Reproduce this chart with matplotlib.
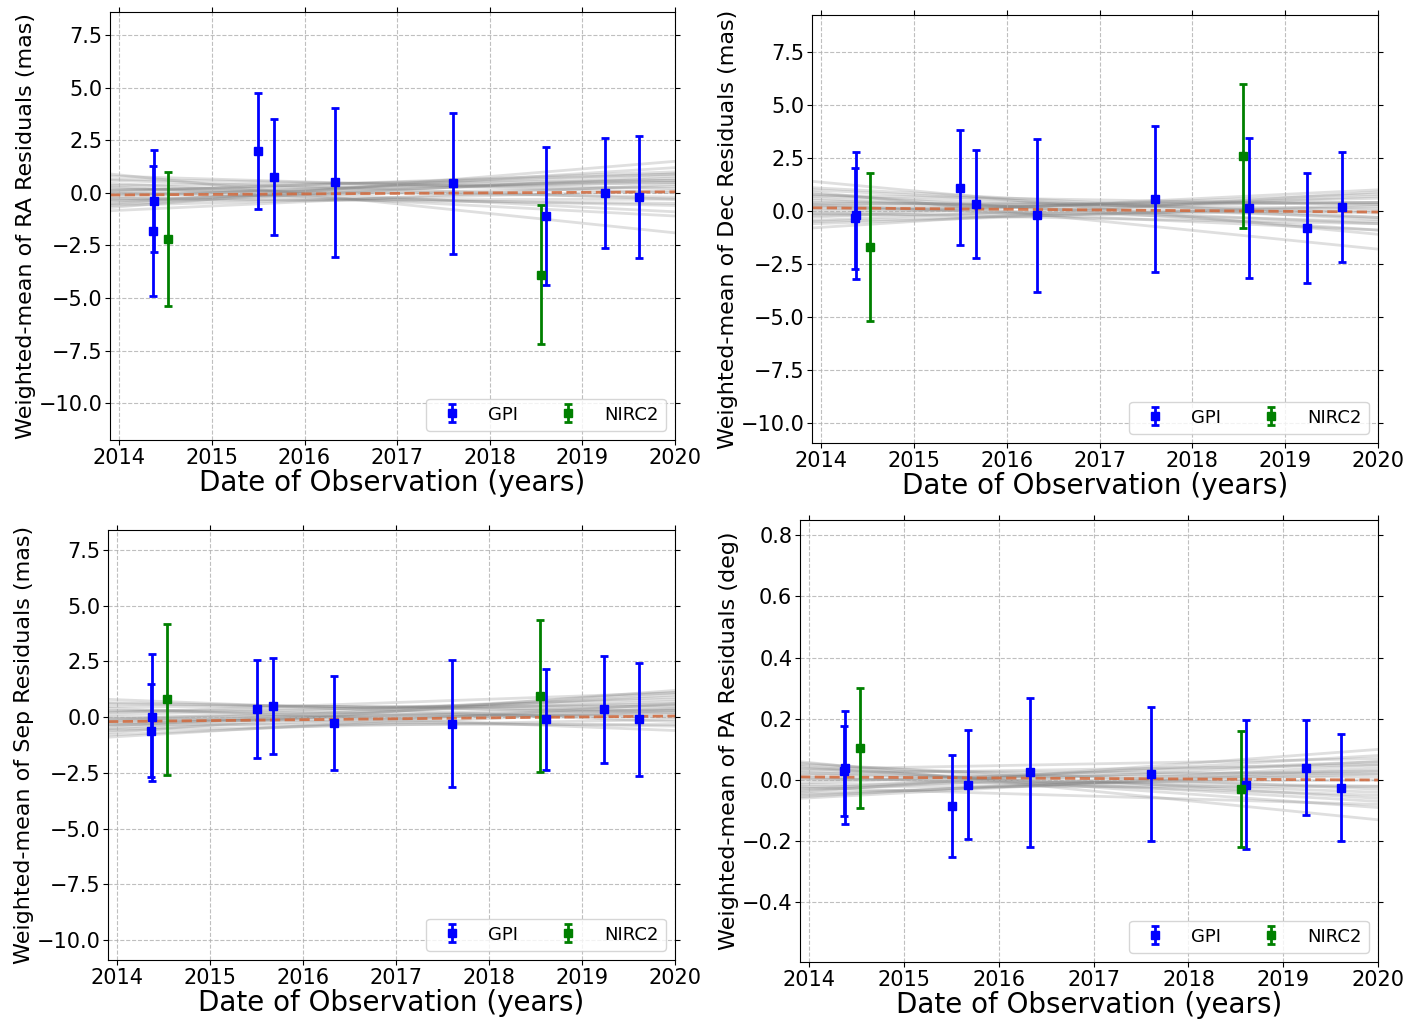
import matplotlib.pyplot as plt
import numpy as np

# epochs of observation (years)
gpi_t = [2014.36, 2014.37, 2015.50, 2015.67, 2016.33, 2017.60, 2018.61, 2019.24, 2019.61]
nirc_t = [2014.53, 2018.55]

# weighted-mean residuals and errors, per panel
ra_gpi = [-1.8, -0.4, 2.0, 0.75, 0.5, 0.45, -1.1, 0.0, -0.2]
ra_gpi_err = [3.1, 2.43, 2.75, 2.75, 3.55, 3.35, 3.3, 2.6, 2.9]
ra_nirc = [-2.2, -3.9]
ra_nirc_err = [3.2, 3.3]

dec_gpi = [-0.35, -0.2, 1.1, 0.35, -0.2, 0.55, 0.15, -0.8, 0.2]
dec_gpi_err = [2.4, 3.0, 2.7, 2.55, 3.6, 3.45, 3.3, 2.6, 2.6]
dec_nirc = [-1.7, 2.6]
dec_nirc_err = [3.5, 3.4]

sep_gpi = [-0.6, 0.0, 0.35, 0.5, -0.25, -0.3, -0.1, 0.35, -0.1]
sep_gpi_err = [2.1, 2.85, 2.2, 2.15, 2.1, 2.85, 2.25, 2.4, 2.55]
sep_nirc = [0.8, 0.95]
sep_nirc_err = [3.4, 3.4]

pa_gpi = [0.03, 0.04, -0.085, -0.015, 0.025, 0.02, -0.015, 0.04, -0.025]
pa_gpi_err = [0.148, 0.185, 0.168, 0.178, 0.243, 0.22, 0.21, 0.155, 0.175]
pa_nirc = [0.105, -0.03]
pa_nirc_err = [0.195, 0.19]

# model trend lines: value at left and right edge of the time range
ra_left = [0.8, 0.6, 0.9, 0.35, 0.2, 0.1, 0.0, -0.1, -0.2, -0.3, -0.4, -0.5, -0.6, -0.7, -0.85, 0.3,
           0.45, -0.25, 0.15, -0.05, 0.65, -0.35, 0.05, -0.55]
ra_right = [0.0, -0.3, -1.9, 0.6, -0.2, 0.9, -0.6, 0.5, 0.9, 0.3, 0.7, 1.2, 0.1, 1.5, 0.4, -1.1,
            -0.9, -0.5, 0.5, 0.6, 0.2, -0.3, 1.0, 0.8]
ra_best = [-0.1, 0.05]

dec_left = [1.4, 1.1, 0.9, 0.7, 0.5, 0.35, 0.2, 0.1, 0.0, -0.15, -0.3, -0.45, -0.6, -0.8, 0.6, 0.25,
            0.8, -0.2, 0.4, 1.0, 0.3, -0.5, 0.75, -0.1]
dec_right = [-1.1, -0.3, -1.8, -0.1, -0.3, 0.4, -0.5, 0.4, 0.6, 0.8, 1.0, 0.7, 0.3, 0.9, -0.6, 0.4,
             -0.9, 0.0, 0.1, -0.4, -0.9, 0.2, 0.3, -0.6]
dec_best = [0.15, -0.05]

sep_left = [0.8, 0.6, 0.4, 0.25, 0.1, 0.0, -0.1, -0.25, -0.4, -0.55, -0.7, -0.9, -0.3, -0.15, 0.3, -0.5,
            -0.8, 0.5, -0.05, -0.35, 0.2, -0.6, 0.65, -0.2]
sep_right = [-0.2, 0.3, -0.6, 0.6, 0.8, 0.1, 0.9, 0.2, 1.1, 0.4, 1.2, 0.6, -0.3, 0.7, 0.0, 1.0,
             0.3, 0.5, -0.4, 0.55, 1.1, -0.1, 0.2, 0.35]
sep_best = [-0.2, 0.05]

pa_left = [0.06, 0.05, 0.04, 0.03, 0.02, 0.01, 0.0, -0.01, -0.02, -0.03, -0.04, -0.05, -0.06, 0.045,
           -0.015, 0.025, -0.035, 0.055, 0.005, -0.045, 0.035, -0.025, 0.015, -0.055]
pa_right = [-0.13, -0.03, -0.07, 0.02, 0.05, -0.05, 0.03, 0.06, -0.02, 0.08, 0.1, 0.03, 0.04, -0.09,
            0.0, -0.04, 0.06, -0.06, -0.02, 0.02, 0.07, -0.08, 0.01, 0.05]
pa_best = [0.01, 0.0]

t_edge = [2013.9, 2020.0]

panels = [
    (ra_gpi, ra_gpi_err, ra_nirc, ra_nirc_err, ra_left, ra_right, ra_best,
     'Weighted-mean of RA Residuals (mas)', (-11.75, 8.6), [7.5, 5.0, 2.5, 0.0, -2.5, -5.0, -7.5, -10.0]),
    (dec_gpi, dec_gpi_err, dec_nirc, dec_nirc_err, dec_left, dec_right, dec_best,
     'Weighted-mean of Dec Residuals (mas)', (-10.95, 9.25), [7.5, 5.0, 2.5, 0.0, -2.5, -5.0, -7.5, -10.0]),
    (sep_gpi, sep_gpi_err, sep_nirc, sep_nirc_err, sep_left, sep_right, sep_best,
     'Weighted-mean of Sep Residuals (mas)', (-10.9, 8.4), [7.5, 5.0, 2.5, 0.0, -2.5, -5.0, -7.5, -10.0]),
    (pa_gpi, pa_gpi_err, pa_nirc, pa_nirc_err, pa_left, pa_right, pa_best,
     'Weighted-mean of PA Residuals (deg)', (-0.595, 0.85), [0.8, 0.6, 0.4, 0.2, 0.0, -0.2, -0.4]),
]

# axes boxes in pixels (left, top, right, bottom)
W, H = 1420.0, 1021.0
boxes = [
    (110, 12, 675, 440),
    (812, 15, 1378, 443),
    (108, 530, 675, 960),
    (800, 520, 1378, 962),
]

fig = plt.figure(figsize=(14.2, 10.21), dpi=100)

for (g, ge, n, ne, lo, hi, best, ylab, ylim, yt), (x0, y0, x1, y1) in zip(panels, boxes):
    ax = fig.add_axes([x0 / W, 1 - y1 / H, (x1 - x0) / W, (y1 - y0) / H])
    for a, b in zip(lo, hi):
        ax.plot(t_edge, [a, b], color='gray', alpha=0.25, lw=2, zorder=1)
    ax.plot(t_edge, best, color='#d2693c', ls='--', lw=2, alpha=0.85, zorder=2)
    ax.errorbar(gpi_t, g, yerr=ge, fmt='s', color='blue', ms=6, capsize=3,
                elinewidth=2, capthick=2, label='GPI', zorder=3)
    ax.errorbar(nirc_t, n, yerr=ne, fmt='s', color='green', ms=6, capsize=3,
                elinewidth=2, capthick=2, label='NIRC2', zorder=3)
    ax.set_xlim(t_edge)
    ax.set_ylim(ylim)
    ax.set_yticks(yt)
    ax.set_xticks([2014, 2015, 2016, 2017, 2018, 2019, 2020])
    ax.grid(True, ls='--', color='#b0b0b0', alpha=0.8)
    ax.tick_params(labelsize=15, top=True, right=True, length=3.5, pad=2)
    ax.set_xlabel('Date of Observation (years)', fontsize=20, labelpad=1)
    ax.set_ylabel(ylab, fontsize=16, labelpad=2)
    ax.legend(loc='lower right', ncol=2, fontsize=13, handletextpad=1.0,
              columnspacing=1.8)

fig.savefig('out.png', dpi=100)
